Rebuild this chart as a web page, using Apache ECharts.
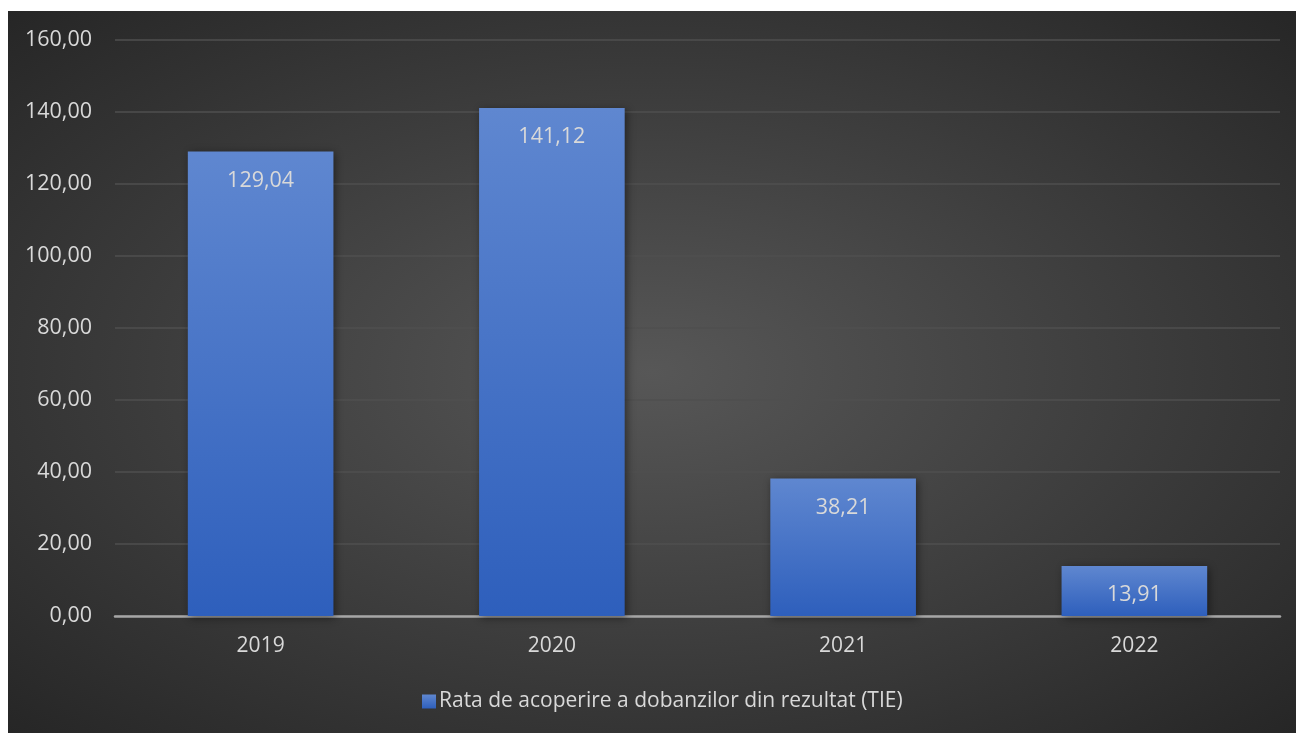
<!DOCTYPE html>
<html>
<head>
<meta charset="utf-8">
<script src="https://cdn.jsdelivr.net/npm/echarts@6/dist/echarts.min.js"></script>
<style>
html,body{margin:0;padding:0;background:#fff;width:1296px;height:733px;overflow:hidden;}
#wrap{position:absolute;left:8px;top:11px;width:1288px;height:722px;
background:radial-gradient(ellipse at 50% 50%, #575757 0%, #3c3c3c 55%, #262626 100%);}
#chart{width:1288px;height:722px;}
</style>
</head>
<body>
<div id="wrap"><div id="chart"></div></div>
<script>
const categories = ['2019', '2020', '2021', '2022'];
const values = [129.04, 141.12, 38.21, 13.91];
const seriesName = 'Rata de acoperire a dobanzilor din rezultat (TIE)';
const yTicks = [0, 20, 40, 60, 80, 100, 120, 140, 160];

const fmt = v => Number(v).toFixed(2).replace('.', ',');
const font = 'Open Sans';
const chart = echarts.init(document.getElementById('chart'));
chart.setOption({
  animation: false,
  backgroundColor: 'transparent',
  grid: {left: 107, top: 29, width: 1165, height: 576, containLabel: false},
  legend: {
    bottom: 16, left: 409,
    itemWidth: 14, itemHeight: 14, itemGap: 10,
    icon: 'rect',
    textStyle: {color: '#d9d9d9', fontSize: 21, fontFamily: font, padding: [0,0,0,-2]},
    data: [seriesName]
  },
  xAxis: {
    type: 'category', data: categories,
    axisLine: {lineStyle: {color: '#a6a6a6', width: 2.5}},
    axisTick: {show: false},
    axisLabel: {color: '#d9d9d9', fontSize: 21, fontFamily: font, margin: 20}
  },
  yAxis: {
    type: 'value', min: yTicks[0], max: yTicks[yTicks.length-1], interval: 20,
    axisLine: {show: false}, axisTick: {show: false},
    axisLabel: {color: '#d9d9d9', fontSize: 21.5, fontFamily: font, margin: 23, formatter: fmt},
    splitLine: {lineStyle: {color: '#4f4f4f', width: 1.5}}
  },
  series: [{
    name: seriesName, type: 'bar', data: values, barWidth: '50%',
    itemStyle: {
      color: new echarts.graphic.LinearGradient(0, 0, 0, 1, [
        {offset: 0, color: '#5f87d0'}, {offset: 1, color: '#2e5fbc'}
      ]),
      shadowBlur: 8, shadowColor: 'rgba(0,0,0,0.45)', shadowOffsetX: 2, shadowOffsetY: 2
    },
    label: {show: true, position: 'insideTop', distance: 18, color: '#d9d9d9',
      fontSize: 21.5, fontFamily: font, formatter: p => fmt(p.value)}
  }]
});
</script>
</body>
</html>
